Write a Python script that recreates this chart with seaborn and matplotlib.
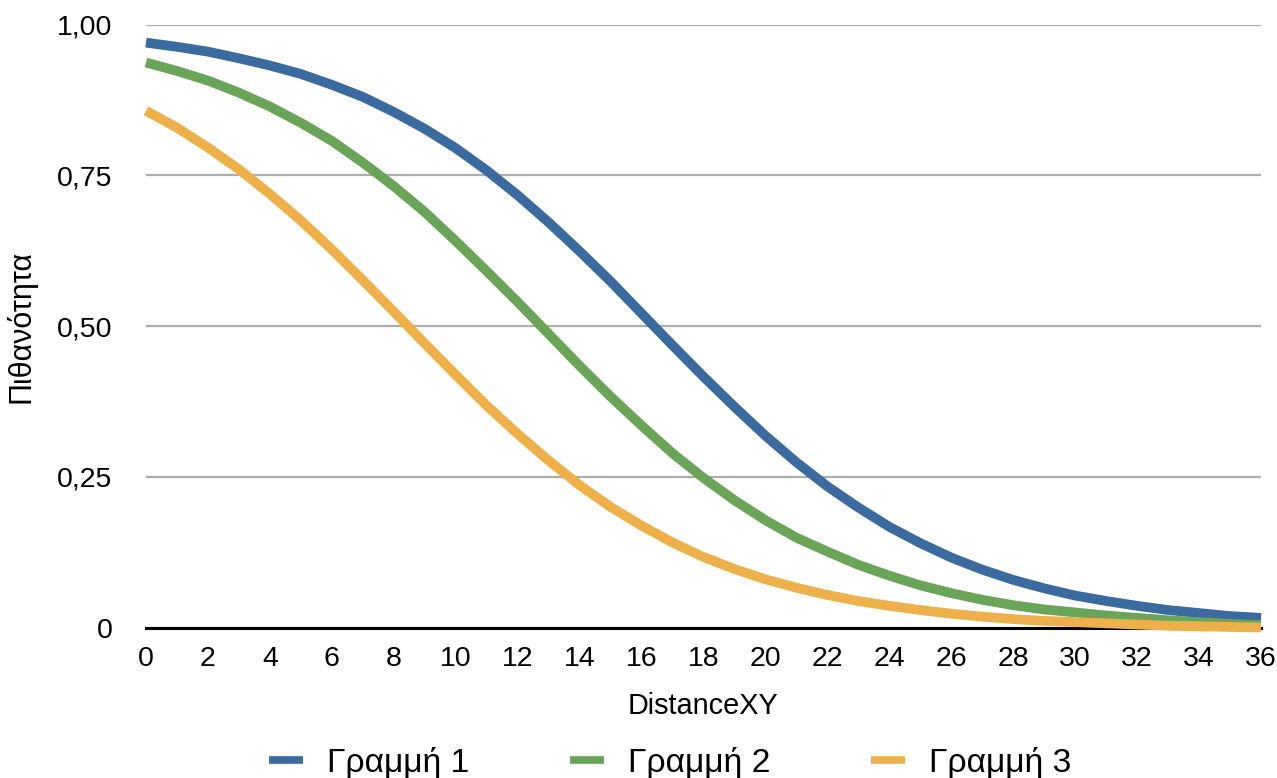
import numpy as np
import pandas as pd
import matplotlib
matplotlib.use("Agg")
import matplotlib.pyplot as plt
import seaborn as sns

# values (x = 0..36)
distance = list(range(0, 37))
line1 = [0.970, 0.963, 0.955, 0.944, 0.932, 0.918, 0.900, 0.880, 0.855, 0.827,
         0.795, 0.758, 0.717, 0.672, 0.624, 0.574, 0.521, 0.468, 0.416, 0.366,
         0.318, 0.274, 0.234, 0.199, 0.167, 0.140, 0.116, 0.096, 0.079, 0.065,
         0.053, 0.044, 0.036, 0.029, 0.024, 0.019, 0.016]
line2 = [0.937, 0.923, 0.907, 0.887, 0.864, 0.837, 0.807, 0.771, 0.732, 0.689,
         0.641, 0.591, 0.540, 0.487, 0.434, 0.383, 0.335, 0.289, 0.248, 0.211,
         0.178, 0.149, 0.126, 0.104, 0.086, 0.070, 0.057, 0.046, 0.037, 0.030,
         0.025, 0.020, 0.016, 0.012, 0.009, 0.006, 0.004]
line3 = [0.857, 0.829, 0.796, 0.760, 0.719, 0.675, 0.627, 0.576, 0.524, 0.471,
         0.419, 0.368, 0.321, 0.277, 0.236, 0.200, 0.169, 0.141, 0.117, 0.097,
         0.080, 0.066, 0.054, 0.044, 0.036, 0.029, 0.023, 0.018, 0.014, 0.011,
         0.009, 0.007, 0.005, 0.003, 0.002, 0.001, 0.000]
names = ["Γραμμή 1", "Γραμμή 2", "Γραμμή 3"]
colors = ["#3A6A9E", "#6AA458", "#EEB04A"]
yticks = [0, 0.25, 0.5, 0.75, 1.0]
ytick_labels = ["0", "0,25", "0,50", "0,75", "1,00"]

sns.set_theme(style="white")
plt.rcParams["font.family"] = ["Liberation Sans", "DejaVu Sans"]
plt.rcParams["text.color"] = "black"

df = pd.DataFrame({
    "DistanceXY": distance * 3,
    "p": line1 + line2 + line3,
    "series": [names[0]] * 37 + [names[1]] * 37 + [names[2]] * 37,
})

fig = plt.figure(figsize=(12.77, 7.78), dpi=100)
ax = fig.add_axes([0.1143, 0.1934, 0.8732, 0.7751])

sns.lineplot(data=df, x="DistanceXY", y="p", hue="series", hue_order=names,
             palette=colors, linewidth=7, zorder=3, clip_on=False,
             solid_capstyle="butt", solid_joinstyle="round", ax=ax)

ax.set_xlim(0, 36)
ax.set_ylim(0, 1)
ax.set_xticks(range(0, 37, 2))
ax.set_yticks(yticks)
ax.set_yticklabels(ytick_labels)
ax.tick_params(axis="both", length=0, labelsize=20.5, colors="black")
ax.tick_params(axis="x", pad=13)
ax.tick_params(axis="y", pad=24)

ax.yaxis.grid(True, color="#ADADAD", linewidth=1.6)
ax.xaxis.grid(False)
ax.set_axisbelow(True)
for side in ["top", "right", "left"]:
    ax.spines[side].set_visible(False)
ax.spines["bottom"].set_color("black")
ax.spines["bottom"].set_linewidth(2.2)

ax.set_xlabel("DistanceXY", fontsize=20.8, color="black")
ax.set_ylabel("Πιθανότητα", fontsize=22, color="black")
ax.xaxis.set_label_coords(0.5, -0.107)
ax.yaxis.set_label_coords(-0.098, 0.5)

sns.move_legend(ax, "center", bbox_to_anchor=(0.525, 0.0193),
                bbox_transform=fig.transFigure, ncol=3, frameon=False,
                title=None, fontsize=24.2, handlelength=1.0, handletextpad=0.72,
                columnspacing=3.0)
leg = ax.get_legend()
for l in leg.get_lines():
    l.set_linewidth(5.5)
for t in leg.get_texts():
    t.set_color("black")

fig.savefig("out.png", dpi=100)
